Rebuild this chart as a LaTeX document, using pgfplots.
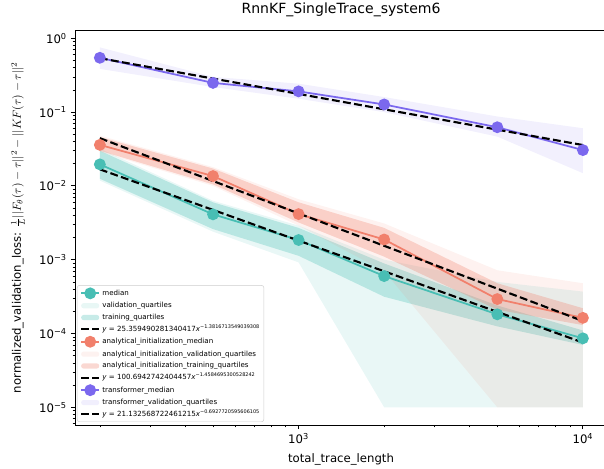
\documentclass[border=0pt]{standalone}
\usepackage{fontspec}
\setmainfont{DejaVu Sans}
\usepackage{pgfplots}
\pgfplotsset{compat=1.18}
\definecolor{cteal}{RGB}{72,190,180}
\definecolor{csal}{RGB}{241,128,108}
\definecolor{cpur}{RGB}{123,104,238}
\definecolor{lgray}{RGB}{204,204,204}
\pgfplotsset{
 mlegend/.style={legend image code/.code={\draw[mark repeat=2,mark phase=2,##1] plot coordinates {(0pt,0pt)(7.7pt,0pt)(15.4pt,0pt)};}},
 alegend/.style={legend image code/.code={\fill[##1] (0pt,-2.2pt) rectangle (15.4pt,2.2pt);}},
 llegend/.style={legend image code/.code={\draw[##1] (0pt,0pt) -- (15.4pt,0pt);}},
 med/.style={color=#1, line width=1.5pt, mark=*, mark size=4.3pt, mark options={solid, fill=#1, draw=#1}, mlegend},
 band/.style 2 args={draw=none, fill=#1, fill opacity=#2, on layer=axis background, alegend},
 fit/.style={black, line width=1.8pt, dash pattern=on 6.7pt off 2.9pt, llegend},
}
\begin{document}
\begin{tikzpicture}
\begin{axis}[
 set layers=standard,
 at={(0,0)}, anchor=south west,
 xmode=log, ymode=log,
 scale only axis, width=454.9pt, height=337.7pt,
 xmin=163.5, xmax=12160, ymin=5.75e-6, ymax=1.295,
 axis line style={line width=0.8pt},
 tick align=outside, tick pos=left,
 major tick length=3.5pt, minor tick length=2pt,
 every tick/.style={black, line width=0.8pt},
 every minor tick/.style={black, line width=0.6pt},
 xtick={1000,10000}, xticklabels={10\textsuperscript{3},10\textsuperscript{4}},
 minor xtick={200,300,400,500,600,700,800,900,2000,3000,4000,5000,6000,7000,8000,9000},
 ytick={1e-5,1e-4,1e-3,1e-2,1e-1,1},
 yticklabels={10\textsuperscript{−5},10\textsuperscript{−4},10\textsuperscript{−3},10\textsuperscript{−2},10\textsuperscript{−1},10\textsuperscript{0}},
 minor ytick={6e-6,7e-6,8e-6,9e-6,2e-5,3e-5,4e-5,5e-5,6e-5,7e-5,8e-5,9e-5,2e-4,3e-4,4e-4,5e-4,6e-4,7e-4,8e-4,9e-4,2e-3,3e-3,4e-3,5e-3,6e-3,7e-3,8e-3,9e-3,2e-2,3e-2,4e-2,5e-2,6e-2,7e-2,8e-2,9e-2,2e-1,3e-1,4e-1,5e-1,6e-1,7e-1,8e-1,9e-1},
 tick label style={font=\fontsize{10}{12}\selectfont},
 label style={font=\fontsize{10}{12}\selectfont},
 title style={font=\fontsize{12}{14}\selectfont, at={(axis description cs:0.5,1.034)}, anchor=center},
 title={RnnKF\_SingleTrace\_system6},
 every axis x label/.style={at={(axis description cs:0.5,-0.086)}, anchor=center},
 every axis y label/.style={at={(axis description cs:-0.107,0.5)}, rotate=90, anchor=center},
 xlabel={total\_trace\_length},
 ylabel={normalized\_validation\_loss: $\frac{1}{L}||F_\theta(\tau)-\tau||^2-||KF(\tau)-\tau||^2$},
 legend style={at={(axis description cs:0.0038,0.0077)}, anchor=south west,
   font=\fontsize{6.05}{7.3}\selectfont, draw=lgray, rounded corners=2pt, fill=white,
   inner xsep=2.5pt, inner ysep=2.5pt, row sep=2.5pt, column sep=1pt,
   nodes={inner sep=0.8pt, text height=4.6pt, text depth=1.4pt}},
 legend cell align=left,
]
\coordinate (sw) at (rel axis cs:0,0);
% ---- teal group
\addplot[med=cteal] coordinates {(200,0.0196) (500,0.00412) (1000,0.00185) (2000,0.000600) (5000,0.000182) (10000,0.0000860)};
\addlegendentry{median}
\addplot[band={cteal}{0.12}] coordinates {(200,0.032) (500,0.0063) (1000,0.0029) (2000,0.00100) (5000,0.00050) (10000,0.00037)
 (10000,0.00001) (5000,0.00001) (2000,0.00001) (1000,0.00092) (500,0.0024) (200,0.0118)};
\addlegendentry{validation\_quartiles}
\addplot[band={cteal}{0.3}] coordinates {(200,0.030) (500,0.0060) (1000,0.0027) (2000,0.00089) (5000,0.00024) (10000,0.000110)
 (10000,0.000070) (5000,0.000125) (2000,0.000315) (1000,0.00113) (500,0.0026) (200,0.0125)};
\addlegendentry{training\_quartiles}
\addplot[fit] coordinates {(200,0.016786) (500,0.0047325) (1000,0.0018158) (2000,0.0006967) (5000,0.00019654) (10000,0.00007541)};
\addlegendentry{\textit{y} = 25.359490281340417\textit{x}\textsuperscript{−1.3816713549039308}}
% ---- salmon group
\addplot[med=csal] coordinates {(200,0.0360) (500,0.0136) (1000,0.00415) (2000,0.00188) (5000,0.000293) (10000,0.000163)};
\addlegendentry{analytical\_initialization\_median}
\addplot[band={csal}{0.1}] coordinates {(200,0.048) (500,0.0180) (1000,0.0066) (2000,0.0031) (5000,0.00072) (10000,0.00048)
 (10000,0.00001) (5000,0.00001) (2000,0.00070) (1000,0.0029) (500,0.0100) (200,0.029)};
\addlegendentry{analytical\_initialization\_validation\_quartiles}
\addplot[band={csal}{0.3}] coordinates {(200,0.046) (500,0.0172) (1000,0.0060) (2000,0.0027) (5000,0.00048) (10000,0.00022)
 (10000,0.000130) (5000,0.00021) (2000,0.00110) (1000,0.0032) (500,0.0105) (200,0.0300)};
\addlegendentry{analytical\_initialization\_training\_quartiles}
\addplot[fit] coordinates {(200,0.044365) (500,0.011658) (1000,0.0042417) (2000,0.0015433) (5000,0.00040557) (10000,0.00014757)};
\addlegendentry{\textit{y} = 100.6942742404457\textit{x}\textsuperscript{−1.4584695300528242}}
% ---- transformer group
\addplot[med=cpur] coordinates {(200,0.545) (500,0.249) (1000,0.191) (2000,0.127) (5000,0.0624) (10000,0.0306)};
\addlegendentry{transformer\_median}
\addplot[band={cpur}{0.1}] coordinates {(200,0.754) (500,0.300) (1000,0.243) (2000,0.160) (5000,0.0873) (10000,0.0605)
 (10000,0.0149) (5000,0.0466) (2000,0.100) (1000,0.152) (500,0.219) (200,0.386)};
\addlegendentry{transformer\_validation\_quartiles}
\addplot[fit] coordinates {(200,0.53803) (500,0.28514) (1000,0.17648) (2000,0.10917) (5000,0.057860) (10000,0.035809)};
\addlegendentry{\textit{y} = 21.132568722461215\textit{x}\textsuperscript{−0.6927720595606105}}
\end{axis}
\pgfresetboundingbox
\path[use as bounding box] ([xshift=-64.1pt,yshift=-36.8pt]sw) rectangle ([xshift=452.3pt,yshift=363.4pt]sw);
\end{tikzpicture}
\end{document}
